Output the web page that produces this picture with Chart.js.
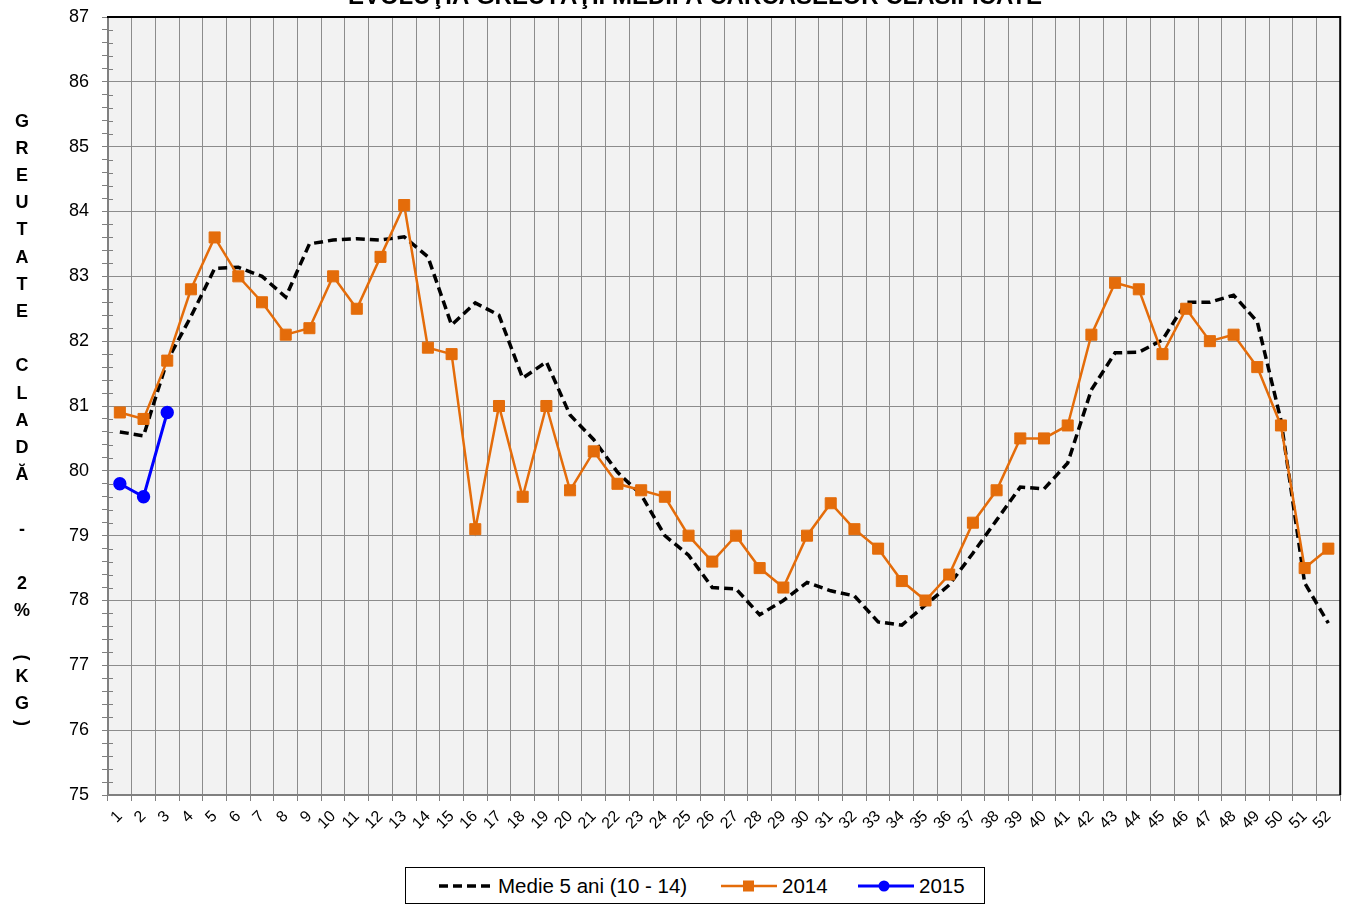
<!DOCTYPE html>
<html>
<head>
<meta charset="utf-8">
<script src="https://cdn.jsdelivr.net/npm/chart.js@4.4.1/dist/chart.umd.min.js"></script>
<style>
  body { margin: 0; background: #fff; }
  #wrap { position: relative; width: 1349px; height: 906px; }
  #legend {
    position: absolute; left: 405px; top: 867px; width: 578px; height: 35px;
    border: 1px solid #000; background: #fff;
    font: 20.5px "Liberation Sans", Arial, sans-serif; color: #000;
  }
  #legend > * { position: absolute; top: 50%; transform: translateY(-50%); }
  #legend span { white-space: nowrap; }
</style>
</head>
<body>
<div id="wrap">
  <canvas id="chart" width="1349" height="906"></canvas>
  <div id="legend">
    <svg style="left:32px" width="58" height="12"><line x1="1" y1="6" x2="57" y2="6" stroke="#000" stroke-width="3.5" stroke-dasharray="9,5"/></svg>
    <span style="left:92px">Medie 5 ani (10 - 14)</span>
    <svg style="left:315px" width="58" height="14"><line x1="0" y1="7" x2="56" y2="7" stroke="#E46C0A" stroke-width="2.5"/><rect x="22" y="1.5" width="11" height="11" fill="#E46C0A"/></svg>
    <span style="left:376px">2014</span>
    <svg style="left:452px" width="58" height="14"><line x1="0" y1="7" x2="56" y2="7" stroke="#0000FF" stroke-width="3"/><circle cx="26" cy="7" r="5.5" fill="#0000FF"/></svg>
    <span style="left:513px">2015</span>
  </div>
</div>
<script>
const weeks = ['1','2','3','4','5','6','7','8','9','10','11','12','13','14','15','16','17','18','19','20',
  '21','22','23','24','25','26','27','28','29','30','31','32','33','34','35','36','37','38','39','40',
  '41','42','43','44','45','46','47','48','49','50','51','52'];

const medie = [80.60, 80.54, 81.70, 82.38, 83.12, 83.14, 83.00, 82.68, 83.50, 83.56,
  83.58, 83.56, 83.61, 83.30, 82.25, 82.59, 82.40, 81.43, 81.68, 80.86,
  80.48, 79.98, 79.63, 79.00, 78.70, 78.20, 78.18, 77.78, 78.00, 78.28,
  78.15, 78.07, 77.67, 77.62, 77.93, 78.24, 78.73, 79.24, 79.75, 79.72,
  80.12, 81.25, 81.82, 81.83, 82.02, 82.60, 82.60, 82.71, 82.30, 80.78,
  78.27, 77.65];

const y2014 = [80.9, 80.8, 81.7, 82.8, 83.6, 83.0, 82.6, 82.1, 82.2, 83.0,
  82.5, 83.3, 84.1, 81.9, 81.8, 79.1, 81.0, 79.6, 81.0, 79.7,
  80.3, 79.8, 79.7, 79.6, 79.0, 78.6, 79.0, 78.5, 78.2, 79.0,
  79.5, 79.1, 78.8, 78.3, 78.0, 78.4, 79.2, 79.7, 80.5, 80.5,
  80.7, 82.1, 82.9, 82.8, 81.8, 82.5, 82.0, 82.1, 81.6, 80.7,
  78.5, 78.8];

const y2015 = [79.8, 79.6, 80.9];

const chartTitle = 'EVOLUŢIA GREUTĂŢII MEDII A CARCASELOR CLASIFICATE';
const yTitle = 'GREUTATE CLADĂ - 2% (KG)';

const isMajor = v => Math.abs(v - Math.round(v)) < 1e-6;

// plot background, borders, clipped title, stacked y title, inner minor ticks
const decor = {
  id: 'decor',
  beforeDraw(chart) {
    const { ctx, chartArea: a } = chart;
    ctx.save();
    ctx.fillStyle = '#f2f2f2';
    ctx.fillRect(a.left, a.top, a.right - a.left, a.bottom - a.top);
    ctx.restore();
  },
  afterDraw(chart) {
    const { ctx, chartArea: a } = chart;
    const ys = chart.scales.y;
    ctx.save();
    // minor ticks inside the axis
    ctx.strokeStyle = '#808080';
    ctx.lineWidth = 1;
    ys.ticks.forEach(t => {
      if (isMajor(t.value)) return;
      const py = Math.round(ys.getPixelForValue(t.value)) + 0.5;
      ctx.beginPath();
      ctx.moveTo(a.left, py);
      ctx.lineTo(a.left + 5, py);
      ctx.stroke();
    });
    // top & right frame
    ctx.strokeStyle = '#000';
    ctx.lineWidth = 2;
    ctx.beginPath();
    ctx.moveTo(a.left - 1, a.top);
    ctx.lineTo(a.right, a.top);
    ctx.lineTo(a.right, a.bottom);
    ctx.stroke();

    // title, cut off by the top edge
    ctx.fillStyle = '#000';
    ctx.font = 'bold 24px "Liberation Sans", Arial, sans-serif';
    ctx.textAlign = 'center';
    ctx.textBaseline = 'alphabetic';
    ctx.fillText(chartTitle, 695, 4);

    // stacked y axis title
    ctx.font = 'bold 18px "Liberation Sans", Arial, sans-serif';
    ctx.textBaseline = 'middle';
    let y = 108;
    for (const ch of yTitle) {
      const paren = ch === '(' || ch === ')';
      const adv = paren ? 11 : 27.2;
      const cy = y + adv / 2;
      if (paren) {
        ctx.save();
        ctx.translate(22, cy);
        ctx.rotate(Math.PI / 2);
        ctx.fillText(ch, 0, 0);
        ctx.restore();
      } else if (ch !== ' ') {
        ctx.fillText(ch, 22, cy);
      }
      y += adv;
    }
    ctx.restore();
  }
};

new Chart(document.getElementById('chart'), {
  type: 'line',
  data: {
    labels: weeks,
    datasets: [
      {
        label: 'Medie 5 ani (10 - 14)',
        data: medie,
        borderColor: '#000',
        borderWidth: 3.5,
        borderDash: [9, 5],
        pointRadius: 0,
        tension: 0,
        order: 3
      },
      {
        label: '2014',
        data: y2014,
        borderColor: '#E46C0A',
        backgroundColor: '#E46C0A',
        borderWidth: 2.5,
        pointStyle: 'rect',
        pointRadius: 7.8,
        pointBorderWidth: 1,
        tension: 0,
        order: 2
      },
      {
        label: '2015',
        data: y2015,
        borderColor: '#0000FF',
        backgroundColor: '#0000FF',
        borderWidth: 3,
        pointStyle: 'circle',
        pointRadius: 5.2,
        tension: 0,
        order: 1
      }
    ]
  },
  options: {
    responsive: false,
    animation: false,
    devicePixelRatio: 1,
    layout: { padding: { left: 0, top: 17, right: 8, bottom: 0 } },
    plugins: {
      legend: { display: false },
      title: { display: false },
      tooltip: { enabled: false }
    },
    scales: {
      x: {
        offset: true,
        grid: { offset: true, color: '#8c8c8c', lineWidth: 1, tickLength: 6, tickColor: '#808080' },
        border: { color: '#808080', width: 2 },
        ticks: {
          minRotation: 45, maxRotation: 45, autoSkip: false, padding: 6,
          color: '#000', font: { family: 'Liberation Sans', size: 16 }
        },
        afterFit: s => { s.height = 111; s.paddingLeft = 0; s.paddingRight = 0; }
      },
      y: {
        min: 75,
        max: 87,
        grid: {
          color: c => isMajor(c.tick.value) ? '#8c8c8c' : 'transparent',
          tickColor: '#808080',
          tickLength: 6
        },
        border: { color: '#808080', width: 2 },
        ticks: {
          stepSize: 0.2,
          autoSkip: false,
          padding: 13,
          color: '#000',
          font: { family: 'Liberation Sans', size: 18 },
          callback: v => isMajor(v) ? String(Math.round(v)) : ''
        },
        afterFit: s => { s.width = 108; s.paddingTop = 0; s.paddingBottom = 0; }
      }
    }
  },
  plugins: [decor]
});
</script>
</body>
</html>
